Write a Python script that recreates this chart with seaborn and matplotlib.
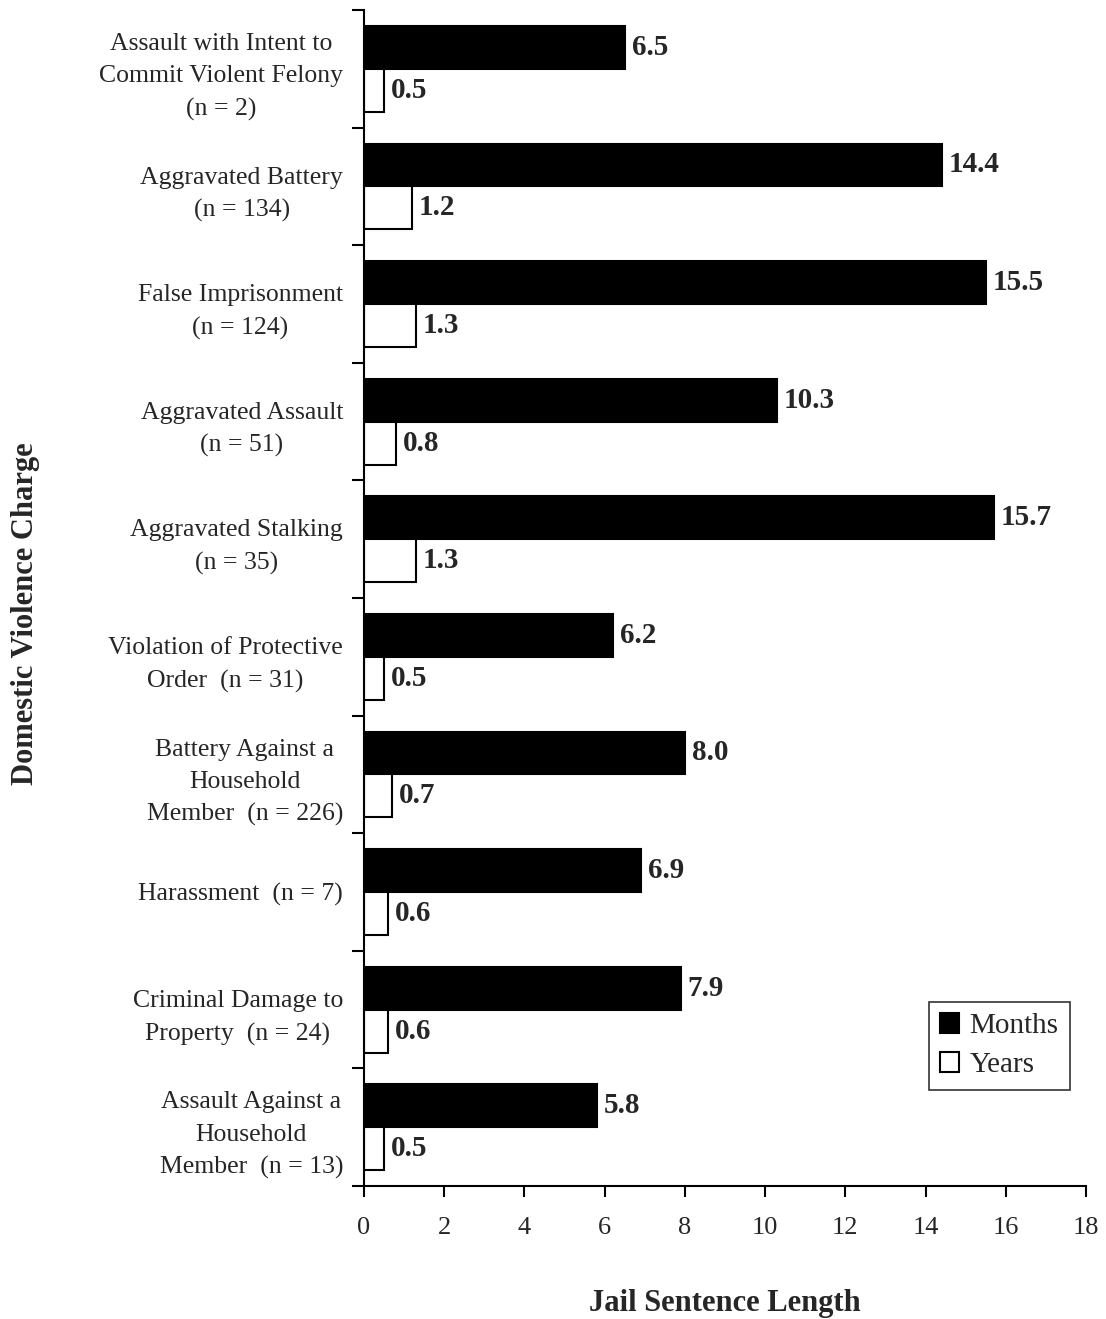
import pandas as pd
import matplotlib.pyplot as plt
import numpy as np
import seaborn as sns

# Data
charges = [
    'Assault with Intent to\nCommit Violent Felony\n(n = 2)',
    'Aggravated Battery\n(n = 134)',
    'False Imprisonment\n(n = 124)',
    'Aggravated Assault\n(n = 51)',
    'Aggravated Stalking\n(n = 35)',
    'Violation of Protective\nOrder  (n = 31)',
    'Battery Against a\nHousehold\nMember  (n = 226)',
    'Harassment  (n = 7)',
    'Criminal Damage to\nProperty  (n = 24)',
    'Assault Against a\nHousehold\nMember  (n = 13)',
]
months = [6.5, 14.4, 15.5, 10.3, 15.7, 6.2, 8.0, 6.9, 7.9, 5.8]
years = [0.5, 1.2, 1.3, 0.8, 1.3, 0.5, 0.7, 0.6, 0.6, 0.5]
x_ticks = [0, 2, 4, 6, 8, 10, 12, 14, 16, 18]

df = pd.DataFrame({
    'Charge': charges * 2,
    'Length': months + years,
    'Unit': ['Months'] * len(months) + ['Years'] * len(years),
})

sns.set_style('white')
plt.rcParams['font.family'] = ['Liberation Serif', 'DejaVu Serif']

fig = plt.figure(figsize=(11.06, 13.19), dpi=100)
ax = fig.add_axes([0.329, 0.1008, 0.653, 0.8916])

sns.barplot(data=df, y='Charge', x='Length', hue='Unit', order=charges,
            palette={'Months': 'black', 'Years': 'white'},
            edgecolor='black', linewidth=1.5, width=0.73, ax=ax)

for cont in ax.containers:
    ax.bar_label(cont, fmt='%.1f', padding=5, fontsize=21, fontweight='bold')

ax.set_xlim(0, 18)
ax.set_ylim(9.5, -0.5)
ax.set_xticks(x_ticks)
ax.set_xticklabels([str(t) for t in x_ticks], fontsize=19)

# labels at category centres, tick marks at category boundaries
ax.set_yticks(np.arange(len(charges)))
ax.set_yticklabels(charges, fontsize=18.5, multialignment='center', linespacing=1.6)
ax.tick_params(axis='y', which='major', length=0, pad=15)
ax.set_yticks(np.arange(len(charges) + 1) - 0.5, minor=True)
ax.tick_params(axis='y', which='minor', length=9, width=1.5, color='black', left=True)
ax.tick_params(axis='x', which='major', length=8, width=1.5, color='black',
               bottom=True, pad=14)

for side in ['top', 'right']:
    ax.spines[side].set_visible(False)
for side in ['left', 'bottom']:
    ax.spines[side].set_color('black')
    ax.spines[side].set_linewidth(1.5)

ax.set_xlabel('Jail Sentence Length', fontsize=22, fontweight='bold', labelpad=36)
ax.set_ylabel('')
fig.text(0.023, 0.5345, 'Domestic Violence Charge', rotation=90, fontsize=22,
         fontweight='bold', ha='center', va='center')

leg = ax.legend(loc='lower right', bbox_to_anchor=(0.978, 0.0816), fontsize=21,
                frameon=True, fancybox=False, edgecolor='black',
                handlelength=0.65, handleheight=0.65, handletextpad=0.35,
                borderpad=0.4, labelspacing=0.45, borderaxespad=0)
leg.get_frame().set_linewidth(1.2)

fig.savefig('out.png', dpi=100)
